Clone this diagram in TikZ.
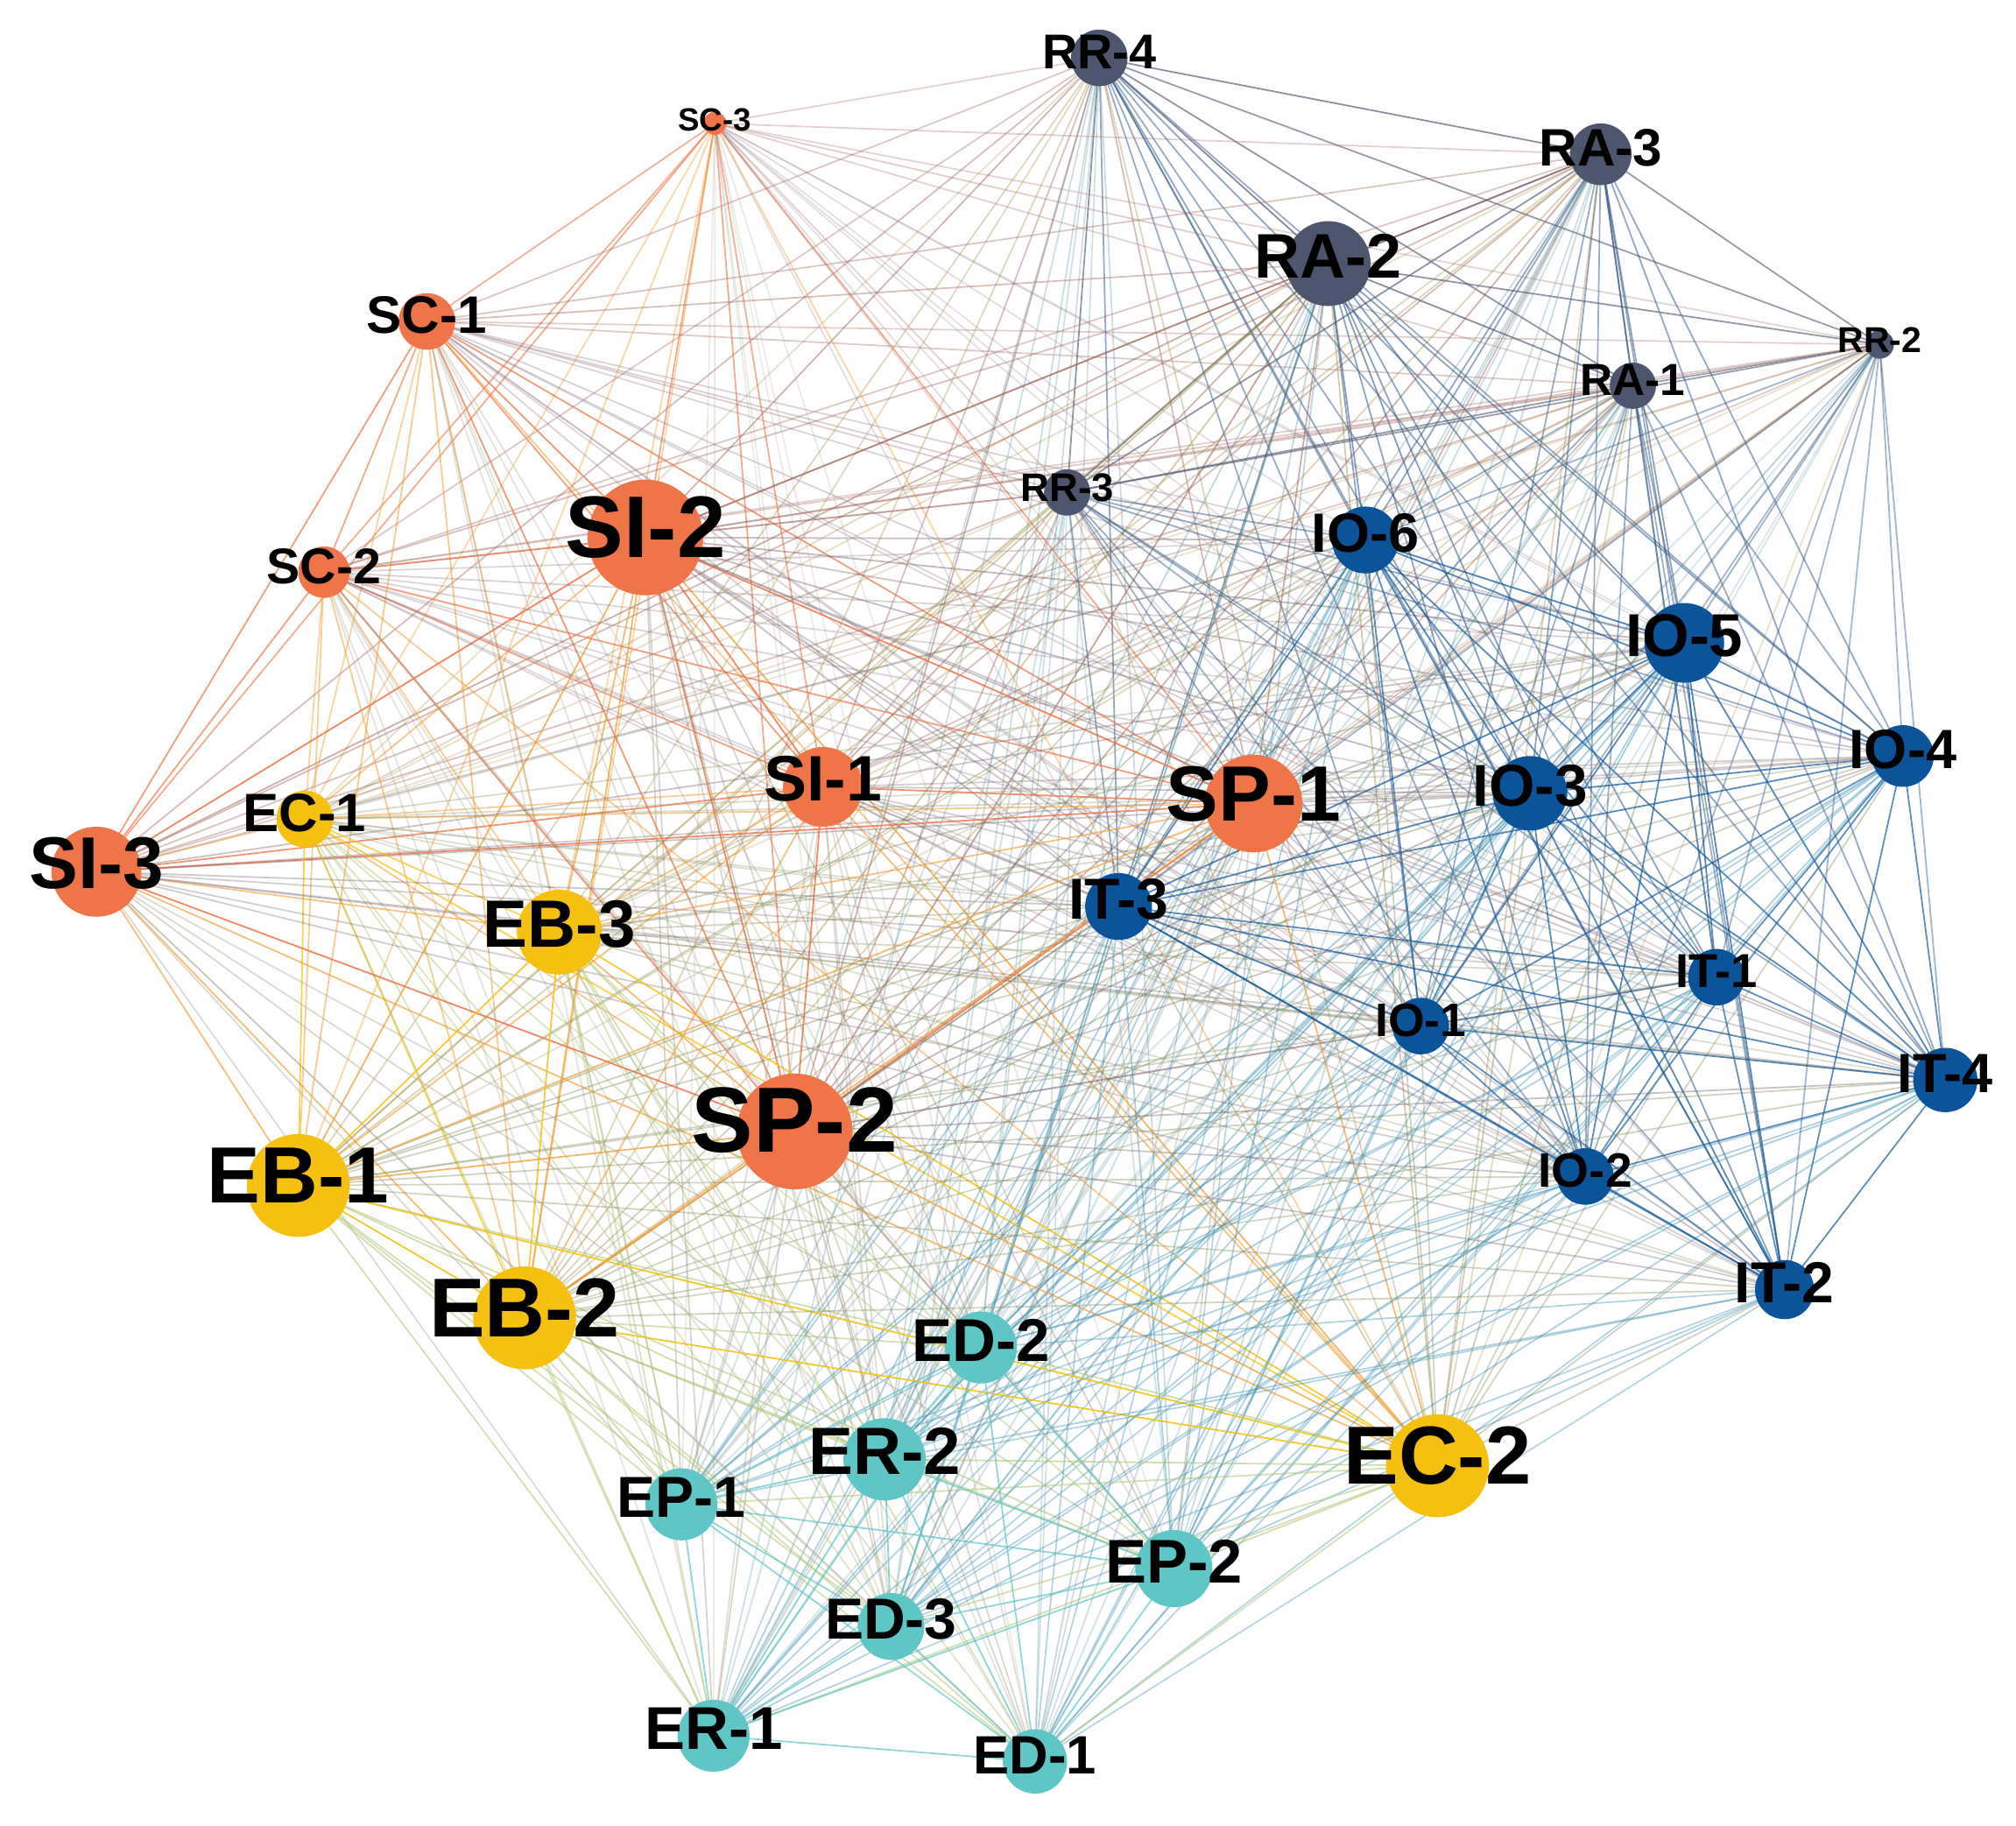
\documentclass[tikz,border=0pt]{standalone}
\usepackage{fontspec}
\setmainfont{Liberation Sans}
\definecolor{cO}{HTML}{EF7549}
\definecolor{cY}{HTML}{F5C00F}
\definecolor{cT}{HTML}{5EC6C6}
\definecolor{cB}{HTML}{0B5499}
\definecolor{cS}{HTML}{4D566E}
\pgfdeclarelayer{bg}
\pgfsetlayers{bg,main}
\def\nodelist{RR-4/855/45/22/S/38, SC-3/556/96/9/O/25, RA-3/1245/120/24/S/41, RA-2/1033/205/33/S/49,
RR-2/1462/268/11/S/28, SC-1/332/250/22/O/41, RA-1/1270/300/18/S/35, RR-3/830/383/18/S/31,
SI-2/502/418/45/O/68, IO-6/1062/420/26/B/43, SC-2/252/445/20/O/39, IO-5/1310/500/31/B/47,
IO-4/1480/588/24/B/43, SI-1/640/612/31/O/50, SP-1/975/625/38/O/61, IO-3/1190/617/29/B/46,
EC-1/237/637/22/Y/42, SI-3/75/678/35/O/57, EB-3/435/725/33/Y/52, IT-3/870/705/26/B/45,
IT-1/1335/760/22/B/37, IO-1/1105/798/22/B/36.5, IT-4/1513/840/25/B/43, SP-2/618/880/45/O/72,
EB-1/232/922/40/Y/62, IO-2/1233/915/22/B/37.5, EB-2/408/1025/40/Y/65, IT-2/1388/1003/23/B/45,
ED-2/763/1048/28/T/47, EC-2/1118/1140/40/Y/64, ER-2/688/1135/32/T/52, EP-1/530/1170/28/T/45,
EP-2/913/1220/30/T/48, ED-3/693/1265/26/T/45, ER-1/555/1350/28/T/47, ED-1/805/1370/25/T/42}
% extra opacity for pairs of groups
\def\bonusSB{0.22}\def\bonusBS{0.22}
\def\bonusOY{0.18}\def\bonusYO{0.18}
\def\bonusYT{0.12}\def\bonusTY{0.12}
\def\bonusOS{0.10}\def\bonusSO{0.10}
\def\bonusBT{0.08}\def\bonusTB{0.08}
\begin{document}
\begin{tikzpicture}[x=1pt,y=-1pt,
  nd/.style={circle,inner sep=0pt,draw=none},
  lbl/.style={text=black,inner sep=0pt},
  edge/.style={line width=1.2pt}]
\useasboundingbox (0,0) rectangle (1568,1420);
% nodes (circles)
\foreach \t/\x/\y/\r/\g/\f [count=\k] in \nodelist {
  \node[nd, fill=c\g, minimum size=2*\r pt] (n\k) at (\x,\y) {};
  \expandafter\xdef\csname gr\k\endcsname{\g}
  \expandafter\xdef\csname rd\k\endcsname{\r}
}
% labels
\foreach \t/\x/\y/\r/\g/\f [count=\k] in \nodelist {
  \node[lbl, font=\fontsize{\f}{\f}\selectfont\bfseries] (l\k) at (\x,{\y-0.12*\f}) {\t};
}
% connectors
\begin{pgfonlayer}{bg}
\foreach \i in {1,...,35} {
  \pgfmathtruncatemacro\istart{\i+1}
  \foreach \j in {\istart,...,36} {
    \edef\ga{\csname gr\i\endcsname}\edef\gb{\csname gr\j\endcsname}
    \edef\ra{\csname rd\i\endcsname}\edef\rb{\csname rd\j\endcsname}
    \pgfmathsetmacro\op{0.16+0.35*\ra*\rb/1600}
    \ifx\ga\gb \pgfmathsetmacro\op{\op+0.38}\fi
    \expandafter\ifx\csname bonus\ga\gb\endcsname\relax\else
      \pgfmathsetmacro\op{\op+\csname bonus\ga\gb\endcsname}\fi
    \pgfmathsetmacro\op{min(0.88,\op)}
    \draw[edge, draw=c\ga!50!c\gb, draw opacity=\op] (n\i.center) -- (n\j.center);
  }
}
\end{pgfonlayer}
\end{tikzpicture}
\end{document}
